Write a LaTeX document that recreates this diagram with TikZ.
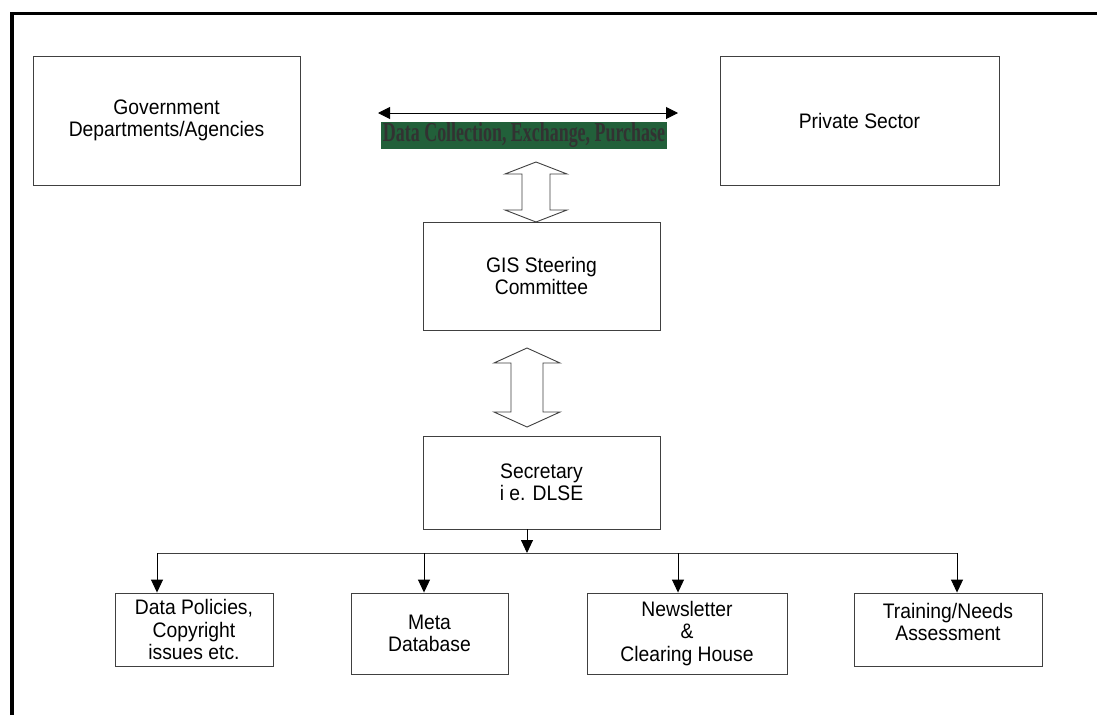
\documentclass[tikz,border=0pt]{standalone}
\usepackage{fontspec}
\setmainfont{Liberation Sans}[FakeStretch=0.92]
\newfontfamily\bandfont{Liberation Serif}
\usetikzlibrary{arrows.meta}
\definecolor{boxline}{gray}{0.25}
\definecolor{bandgreen}{RGB}{34,96,58}
\definecolor{bandtext}{RGB}{50,50,50}
\begin{document}
\begin{tikzpicture}[x=1pt,y=-1pt,
  box/.style={draw=boxline, line width=0.9pt, rectangle, inner sep=0pt, align=center,
              font=\fontsize{21}{22.5}\selectfont},
  lbl/.style={inner sep=0pt, align=center, font=\fontsize{21}{22.5}\selectfont},
  tip/.style={-{Triangle[length=13pt,width=12pt]}, line width=0.9pt},
  blockarrow/.style={draw=boxline, line width=0.9pt, fill=white}]
\useasboundingbox (0,0) rectangle (1097,715);
\fill[white] (0,0) rectangle (1097,715);
% frame
\draw[line width=3.2pt] (12,715) -- (12,13.5) -- (1097,13.5);
% boxes
\node[box, minimum width=267, minimum height=129] (gov) at (166.5,120.5) {Government\\Departments/Agencies};
\node[box, minimum width=279, minimum height=129] (priv) at (859.5,120.5) {Private Sector};
\node[box, minimum width=237, minimum height=108] (gis) at (541.5,276) {GIS Steering\\Committee};
\node[box, minimum width=237, minimum height=93] (sec) at (541.5,482.5) {Secretary\\i e. DLSE};
\node[box, minimum width=158, minimum height=73] (data) at (194,629.5) {Data Policies,\\Copyright\\issues etc.};
\node[box, minimum width=157, minimum height=81] (meta) at (429.5,633.5) {Meta\\Database};
\node[box, minimum width=200, minimum height=81] (news) at (687,633.5) {Newsletter\\\&\\Clearing House};
\node[box, minimum width=188, minimum height=73] (train) at (948,629.5) {};
\node[lbl] (trainlbl) at (948,622) {Training/Needs\\Assessment};
% green band
\node[fill=bandgreen, minimum width=286, minimum height=27, inner sep=0pt] (band) at (524,135.5)
  {\resizebox{282pt}{19pt}{\bfseries\bandfont\color{bandtext}Data Collection, Exchange, Purchase}};
% double arrow above band
\coordinate (ha) at (378,113);
\coordinate (hb) at (678,113);
\draw[{Triangle[length=12pt,width=12pt]}-{Triangle[length=12pt,width=12pt]}, line width=1pt] (ha) -- (hb);
% block arrows
\draw[blockarrow] (536,162) -- (567,174) -- (550,174) -- (550,210) -- (567,210) -- (536,222)
  -- (505,210) -- (522,210) -- (522,174) -- (505,174) -- cycle;
\draw[blockarrow] (527,348) -- (560,363) -- (543,363) -- (543,412) -- (560,412) -- (527,427)
  -- (494,412) -- (511,412) -- (511,363) -- (494,363) -- cycle;
% distribution
\coordinate (bus) at (527,553);
\coordinate (b1) at (157,553);
\coordinate (b2) at (424,553);
\coordinate (b3) at (678,553);
\coordinate (b4) at (957,553);
\draw[tip] (sec.south -| bus) -- (bus);
\draw[line width=0.9pt, draw=boxline] (b1) -- (b4);
\draw[tip] (b1) -- (b1 |- data.north);
\draw[tip] (b2) -- (b2 |- meta.north);
\draw[tip] (b3) -- (b3 |- news.north);
\draw[tip] (b4) -- (b4 |- train.north);
\end{tikzpicture}
\end{document}
